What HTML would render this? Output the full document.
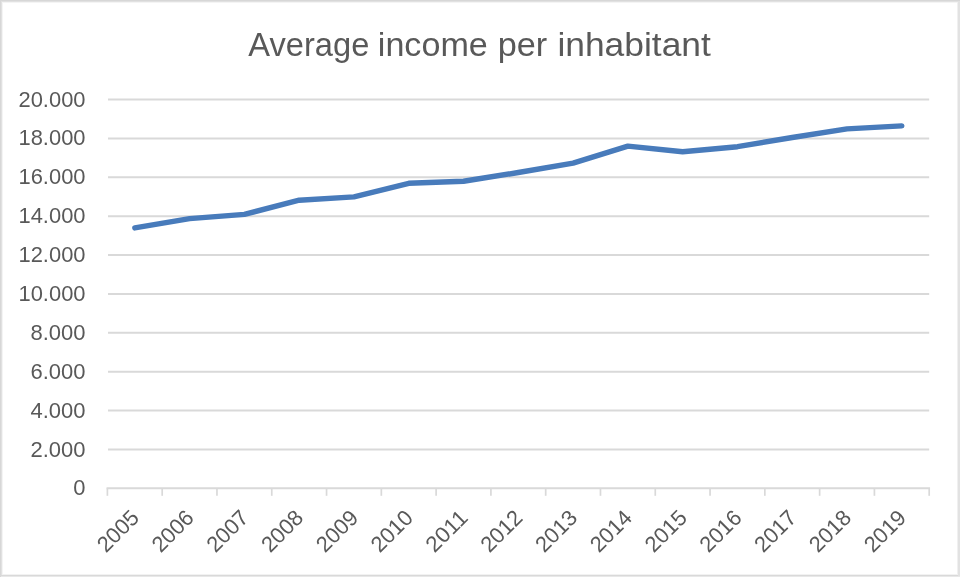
<!DOCTYPE html>
<html><head><meta charset="utf-8"><title>Average income per inhabitant</title>
<style>
html,body{margin:0;padding:0;background:#fff;}
body{width:960px;height:577px;overflow:hidden;}
svg{display:block;will-change:transform;font-family:"Liberation Sans",sans-serif;}
</style></head><body>
<svg width="960" height="577" viewBox="0 0 960 577">
<rect x="0" y="0" width="960" height="577" fill="#fff"/>
<rect x="2" y="0" width="1" height="577" fill="#f4f4f4"/>
<rect x="0" y="2" width="960" height="1" fill="#f4f4f4"/>
<rect x="957" y="0" width="1" height="577" fill="#f0f0f0"/>
<rect x="0" y="574" width="960" height="1" fill="#f2f2f2"/>
<rect x="1" y="0" width="1" height="577" fill="#e1e1e1"/>
<rect x="0" y="1" width="960" height="1" fill="#e1e1e1"/>
<rect x="958" y="0" width="2" height="577" fill="#e2e2e2"/>
<rect x="0" y="576" width="960" height="1" fill="#e8e8e8"/>
<rect x="0" y="0" width="1" height="577" fill="#d7d7d7"/>
<rect x="0" y="0" width="960" height="1" fill="#d7d7d7"/>
<rect x="0" y="575" width="958" height="1" fill="#d9d9d9"/>
<text x="248.30" y="56.40" font-size="33.3" fill="#595959" textLength="121.00" lengthAdjust="spacingAndGlyphs">Average</text>
<text x="377.80" y="56.40" font-size="33.3" fill="#595959" textLength="110.00" lengthAdjust="spacingAndGlyphs">income</text>
<text x="497.70" y="56.40" font-size="33.3" fill="#595959" textLength="49.50" lengthAdjust="spacingAndGlyphs">per</text>
<text x="557.40" y="56.40" font-size="33.3" fill="#595959" textLength="153.50" lengthAdjust="spacingAndGlyphs">inhabitant</text>
<line x1="108.00" y1="449.42" x2="929.20" y2="449.42" stroke="#d9d9d9" stroke-width="2"/>
<line x1="108.00" y1="410.54" x2="929.20" y2="410.54" stroke="#d9d9d9" stroke-width="2"/>
<line x1="108.00" y1="371.66" x2="929.20" y2="371.66" stroke="#d9d9d9" stroke-width="2"/>
<line x1="108.00" y1="332.78" x2="929.20" y2="332.78" stroke="#d9d9d9" stroke-width="2"/>
<line x1="108.00" y1="293.90" x2="929.20" y2="293.90" stroke="#d9d9d9" stroke-width="2"/>
<line x1="108.00" y1="255.02" x2="929.20" y2="255.02" stroke="#d9d9d9" stroke-width="2"/>
<line x1="108.00" y1="216.14" x2="929.20" y2="216.14" stroke="#d9d9d9" stroke-width="2"/>
<line x1="108.00" y1="177.26" x2="929.20" y2="177.26" stroke="#d9d9d9" stroke-width="2"/>
<line x1="108.00" y1="138.38" x2="929.20" y2="138.38" stroke="#d9d9d9" stroke-width="2"/>
<line x1="108.00" y1="99.50" x2="929.20" y2="99.50" stroke="#d9d9d9" stroke-width="2"/>
<line x1="106.55" y1="488.30" x2="930.05" y2="488.30" stroke="#d9d9d9" stroke-width="2"/>
<line x1="107.40" y1="488.30" x2="107.40" y2="495.80" stroke="#d9d9d9" stroke-width="1.7"/>
<line x1="162.19" y1="488.30" x2="162.19" y2="495.80" stroke="#d9d9d9" stroke-width="1.7"/>
<line x1="216.97" y1="488.30" x2="216.97" y2="495.80" stroke="#d9d9d9" stroke-width="1.7"/>
<line x1="271.76" y1="488.30" x2="271.76" y2="495.80" stroke="#d9d9d9" stroke-width="1.7"/>
<line x1="326.55" y1="488.30" x2="326.55" y2="495.80" stroke="#d9d9d9" stroke-width="1.7"/>
<line x1="381.33" y1="488.30" x2="381.33" y2="495.80" stroke="#d9d9d9" stroke-width="1.7"/>
<line x1="436.12" y1="488.30" x2="436.12" y2="495.80" stroke="#d9d9d9" stroke-width="1.7"/>
<line x1="490.91" y1="488.30" x2="490.91" y2="495.80" stroke="#d9d9d9" stroke-width="1.7"/>
<line x1="545.69" y1="488.30" x2="545.69" y2="495.80" stroke="#d9d9d9" stroke-width="1.7"/>
<line x1="600.48" y1="488.30" x2="600.48" y2="495.80" stroke="#d9d9d9" stroke-width="1.7"/>
<line x1="655.27" y1="488.30" x2="655.27" y2="495.80" stroke="#d9d9d9" stroke-width="1.7"/>
<line x1="710.05" y1="488.30" x2="710.05" y2="495.80" stroke="#d9d9d9" stroke-width="1.7"/>
<line x1="764.84" y1="488.30" x2="764.84" y2="495.80" stroke="#d9d9d9" stroke-width="1.7"/>
<line x1="819.63" y1="488.30" x2="819.63" y2="495.80" stroke="#d9d9d9" stroke-width="1.7"/>
<line x1="874.41" y1="488.30" x2="874.41" y2="495.80" stroke="#d9d9d9" stroke-width="1.7"/>
<line x1="929.20" y1="488.30" x2="929.20" y2="495.80" stroke="#d9d9d9" stroke-width="1.7"/>
<text x="73.30" y="495.40" font-size="22.4" fill="#595959" textLength="12.20" lengthAdjust="spacingAndGlyphs">0</text>
<text x="30.43" y="456.52" font-size="22.4" fill="#595959" textLength="55.07" lengthAdjust="spacingAndGlyphs">2.000</text>
<text x="30.43" y="417.64" font-size="22.4" fill="#595959" textLength="55.07" lengthAdjust="spacingAndGlyphs">4.000</text>
<text x="30.43" y="378.76" font-size="22.4" fill="#595959" textLength="55.07" lengthAdjust="spacingAndGlyphs">6.000</text>
<text x="30.43" y="339.88" font-size="22.4" fill="#595959" textLength="55.07" lengthAdjust="spacingAndGlyphs">8.000</text>
<text x="18.50" y="301.00" font-size="22.4" fill="#595959" textLength="67.00" lengthAdjust="spacingAndGlyphs">10.000</text>
<text x="18.50" y="262.12" font-size="22.4" fill="#595959" textLength="67.00" lengthAdjust="spacingAndGlyphs">12.000</text>
<text x="18.50" y="223.24" font-size="22.4" fill="#595959" textLength="67.00" lengthAdjust="spacingAndGlyphs">14.000</text>
<text x="18.50" y="184.36" font-size="22.4" fill="#595959" textLength="67.00" lengthAdjust="spacingAndGlyphs">16.000</text>
<text x="18.50" y="145.48" font-size="22.4" fill="#595959" textLength="67.00" lengthAdjust="spacingAndGlyphs">18.000</text>
<text x="18.50" y="106.60" font-size="22.4" fill="#595959" textLength="67.00" lengthAdjust="spacingAndGlyphs">20.000</text>
<text transform="translate(140.39,519.00) rotate(-45)" text-anchor="end" font-size="22.0" fill="#595959" textLength="48.80" lengthAdjust="spacingAndGlyphs">2005</text>
<text transform="translate(195.18,519.00) rotate(-45)" text-anchor="end" font-size="22.0" fill="#595959" textLength="48.80" lengthAdjust="spacingAndGlyphs">2006</text>
<text transform="translate(249.97,519.00) rotate(-45)" text-anchor="end" font-size="22.0" fill="#595959" textLength="48.80" lengthAdjust="spacingAndGlyphs">2007</text>
<text transform="translate(304.75,519.00) rotate(-45)" text-anchor="end" font-size="22.0" fill="#595959" textLength="48.80" lengthAdjust="spacingAndGlyphs">2008</text>
<text transform="translate(359.54,519.00) rotate(-45)" text-anchor="end" font-size="22.0" fill="#595959" textLength="48.80" lengthAdjust="spacingAndGlyphs">2009</text>
<text transform="translate(414.33,519.00) rotate(-45)" text-anchor="end" font-size="22.0" fill="#595959" textLength="48.80" lengthAdjust="spacingAndGlyphs">2010</text>
<text transform="translate(469.11,519.00) rotate(-45)" text-anchor="end" font-size="22.0" fill="#595959" textLength="48.80" lengthAdjust="spacingAndGlyphs">2011</text>
<text transform="translate(523.90,519.00) rotate(-45)" text-anchor="end" font-size="22.0" fill="#595959" textLength="48.80" lengthAdjust="spacingAndGlyphs">2012</text>
<text transform="translate(578.69,519.00) rotate(-45)" text-anchor="end" font-size="22.0" fill="#595959" textLength="48.80" lengthAdjust="spacingAndGlyphs">2013</text>
<text transform="translate(633.47,519.00) rotate(-45)" text-anchor="end" font-size="22.0" fill="#595959" textLength="48.80" lengthAdjust="spacingAndGlyphs">2014</text>
<text transform="translate(688.26,519.00) rotate(-45)" text-anchor="end" font-size="22.0" fill="#595959" textLength="48.80" lengthAdjust="spacingAndGlyphs">2015</text>
<text transform="translate(743.05,519.00) rotate(-45)" text-anchor="end" font-size="22.0" fill="#595959" textLength="48.80" lengthAdjust="spacingAndGlyphs">2016</text>
<text transform="translate(797.83,519.00) rotate(-45)" text-anchor="end" font-size="22.0" fill="#595959" textLength="48.80" lengthAdjust="spacingAndGlyphs">2017</text>
<text transform="translate(852.62,519.00) rotate(-45)" text-anchor="end" font-size="22.0" fill="#595959" textLength="48.80" lengthAdjust="spacingAndGlyphs">2018</text>
<text transform="translate(907.41,519.00) rotate(-45)" text-anchor="end" font-size="22.0" fill="#595959" textLength="48.80" lengthAdjust="spacingAndGlyphs">2019</text>
<polyline points="134.79,227.90 189.58,218.60 244.37,214.40 299.15,200.20 353.94,196.90 408.73,183.30 463.51,181.25 518.30,172.50 573.09,163.10 627.87,146.10 682.66,151.70 737.45,146.70 792.23,137.50 847.02,128.90 901.81,125.90" fill="none" stroke="#487bbb" stroke-width="5.4" stroke-linecap="round" stroke-linejoin="round"/>
</svg>
</body></html>
